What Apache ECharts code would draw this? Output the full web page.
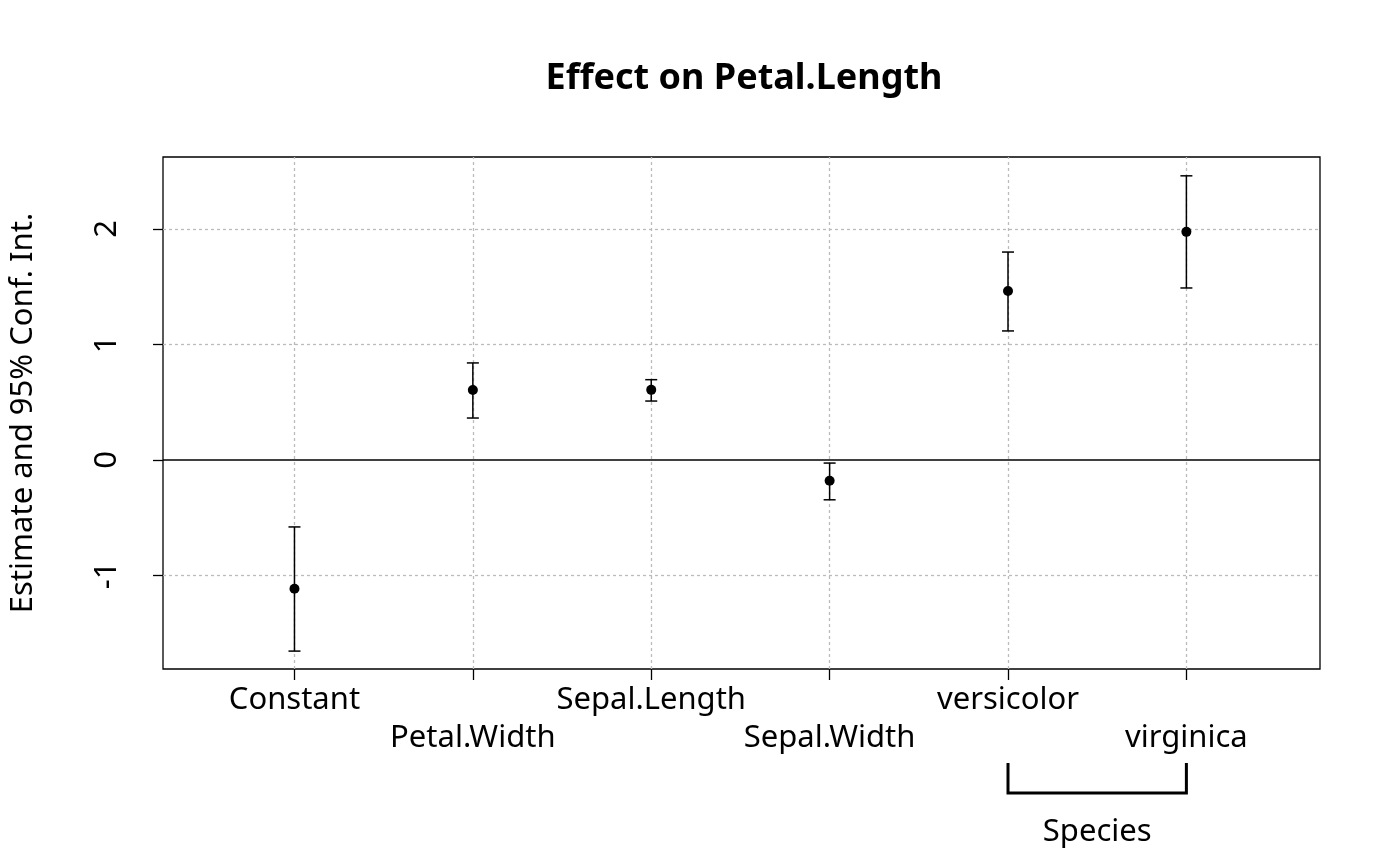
<!DOCTYPE html>
<html><head><meta charset="utf-8">
<script src="https://cdn.jsdelivr.net/npm/echarts@6/dist/echarts.min.js"></script>
<style>html,body{margin:0;background:#fff}#c{width:1400px;height:866px}</style>
</head><body><div id="c"></div>
<script>
const categories = ['Constant','Petal.Width','Sepal.Length','Sepal.Width','versicolor','virginica'];
const estimates = [-1.115, 0.605, 0.607, -0.18, 1.463, 1.975];
const lower = [-1.655, 0.363, 0.51, -0.345, 1.117, 1.489];
const upper = [-0.58, 0.84, 0.695, -0.027, 1.80, 2.46];
const yTicks = [-1, 0, 1, 2];
const groupLabel = 'Species';
const groupMembers = [5, 6];

const positions = categories.map((c, i) => i + 1);
const font = 'Noto Sans';
const chart = echarts.init(document.getElementById('c'));
chart.setOption({
  animation: false,
  title: { text: 'Effect on Petal.Length', left: 739, textAlign: 'center', top: 56,
    textStyle: { fontFamily: font, fontSize: 36, fontWeight: 'bold', color: '#000' } },
  grid: { left: 158, right: 80, top: 157, bottom: 197, show: true, borderColor: '#000', borderWidth: 1.3, backgroundColor: 'transparent' },
  xAxis: { type: 'value', min: 0.263, max: 6.749,
    axisLine: { show: false, onZero: false }, splitLine: { show: false },
    axisTick: { show: true, length: 11, customValues: positions, lineStyle: { color: '#000', width: 1.3 } },
    axisLabel: { customValues: positions, margin: 12, fontFamily: font, fontSize: 31, color: '#000', lineHeight: 38,
      formatter: v => { const i = Math.round(v) - 1; return (i % 2 ? '\n' : '') + categories[i]; } } },
  yAxis: { type: 'value', min: -1.81, max: 2.623,
    name: 'Estimate and 95% Conf. Int.', nameLocation: 'middle', nameGap: 124, nameRotate: 90,
    nameTextStyle: { fontFamily: font, fontSize: 31, color: '#000' },
    axisLine: { show: false }, splitLine: { show: false },
    axisTick: { show: true, length: 10, customValues: yTicks, lineStyle: { color: '#000', width: 1.3 } },
    axisLabel: { customValues: yTicks, rotate: 90, margin: 40, fontFamily: font, fontSize: 31, color: '#000', align: 'center' } },
  series: [
    { type: 'line', data: [], silent: true,
      markLine: { symbol: 'none', silent: true, label: { show: false },
        lineStyle: { color: '#bbb', type: [3, 3], width: 1.3 },
        data: [...yTicks.filter(v => v !== 0).map(v => ({ yAxis: v })), ...positions.map(v => ({ xAxis: v })),
          { yAxis: 0, lineStyle: { color: '#000', type: 'solid', width: 1.5 } }] } },
    { type: 'custom', z: 5,
      data: positions.map((p, i) => [p, lower[i], upper[i]]),
      renderItem: (params, api) => {
        const lo = api.coord([api.value(0), api.value(1)]);
        const hi = api.coord([api.value(0), api.value(2)]);
        const w = 6, st = { stroke: '#000', lineWidth: 1.5 };
        return { type: 'group', children: [
          { type: 'line', shape: { x1: lo[0], y1: lo[1], x2: hi[0], y2: hi[1] }, style: st },
          { type: 'line', shape: { x1: lo[0]-w, y1: lo[1], x2: lo[0]+w, y2: lo[1] }, style: st },
          { type: 'line', shape: { x1: hi[0]-w, y1: hi[1], x2: hi[0]+w, y2: hi[1] }, style: st } ] };
      } },
    { type: 'scatter', z: 6, symbolSize: 10, itemStyle: { color: '#000', opacity: 1 },
      data: positions.map((p, i) => [p, estimates[i]]) },
    { type: 'custom', clip: false, silent: true,
      data: [[groupMembers[0], groupMembers[1]]],
      renderItem: (params, api) => {
        const a = api.coord([api.value(0), -1.81]);
        const b = api.coord([api.value(1), -1.81]);
        const y1 = a[1] + 94, y2 = a[1] + 124;
        return { type: 'group', children: [
          { type: 'polyline', shape: { points: [[a[0], y1], [a[0], y2], [b[0], y2], [b[0], y1]] },
            style: { stroke: '#000', lineWidth: 3, fill: null } },
          { type: 'text', x: (a[0] + b[0]) / 2, y: y2 + 39,
            style: { text: groupLabel, fontFamily: font, fontSize: 31, fill: '#000', align: 'center', verticalAlign: 'middle' } } ] };
      } }
  ]
});
</script></body></html>
